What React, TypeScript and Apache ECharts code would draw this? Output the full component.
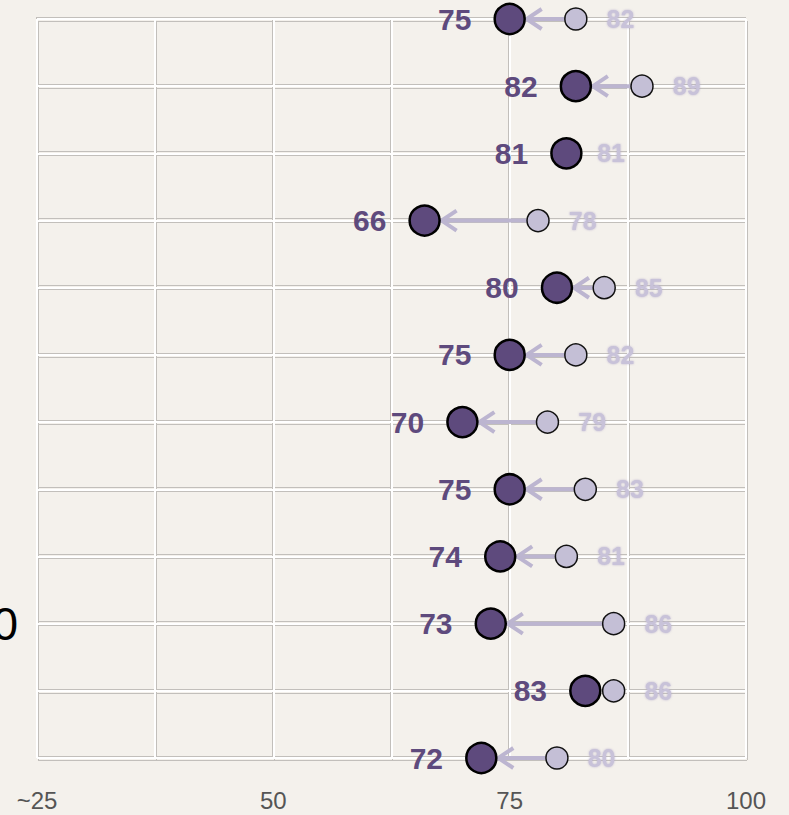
import React, { useEffect, useRef } from "react";
import * as echarts from "echarts";

const categories = ["", "", "", "", "", "", "", "", "", "0", "", ""];
const newValues = [75, 82, 81, 66, 80, 75, 70, 75, 74, 73, 83, 72];
const oldValues = [82, 89, 81, 78, 85, 82, 79, 83, 81, 86, 86, 80];
const xTicks = [25, 50, 75, 100];
const xTickLabels = ["~25", "50", "75", "100"];

const NEW_COLOR = "#5e4a7d";
const OLD_COLOR = "#c4bfd6";
const ARROW_COLOR = "#bcb5d0";
const GREY = "#c2bfbb";
const BG = "#f4f1ec";

export default function App() {
  const ref = useRef<HTMLDivElement>(null);
  useEffect(() => {
    if (!ref.current) return;
    const chart = echarts.init(ref.current, null, { renderer: "svg" });
    const idx = categories.map((_, i) => i);
    const grids = [
      { left: 37, right: 43, top: 19, bottom: 57, outerBoundsMode: "none", containLabel: false },
      { left: 36, right: 44, top: 17, bottom: 59, outerBoundsMode: "none", containLabel: false },
      { left: 38, right: 42, top: 21, bottom: 55, outerBoundsMode: "none", containLabel: false },
    ];
    const mkX = (gi: number, show: boolean, color: string, width: number) => ({
      type: "value",
      gridIndex: gi,
      min: 25,
      max: 100,
      interval: 12.5,
      axisLine: { show: false },
      axisTick: { show: false },
      axisLabel: show
        ? {
            show: true,
            margin: 30,
            fontFamily: "Liberation Sans, Arial, sans-serif",
            fontSize: 24,
            color: "#555555",
            showMinLabel: true,
            showMaxLabel: true,
            formatter: (v: number) => {
              const k = xTicks.indexOf(v);
              return k >= 0 ? xTickLabels[k] : "";
            },
          }
        : { show: false },
      splitLine: { show: true, lineStyle: { color, width } },
      z: gi === 0 ? 2 : 1,
    });
    const mkY = (gi: number, show: boolean, color: string, width: number) => ({
      type: "category",
      gridIndex: gi,
      data: categories,
      boundaryGap: false,
      inverse: true,
      axisLine: { show: false },
      axisTick: { show: false },
      axisLabel: show
        ? {
            show: true,
            interval: 0,
            margin: 19,
            fontFamily: "Liberation Sans, Arial, sans-serif",
            fontSize: 46,
            color: "#000000",
          }
        : { show: false },
      splitLine: { show: true, interval: 0, lineStyle: { color, width } },
      z: gi === 0 ? 2 : 1,
    });

    const arrowData = idx.map((i) => [oldValues[i], newValues[i], i]);

    chart.setOption({
      animation: false,
      backgroundColor: BG,
      grid: grids,
      xAxis: [mkX(0, true, "#ffffff", 2), mkX(1, false, GREY, 1), mkX(2, false, GREY, 1)],
      yAxis: [mkY(0, true, "#ffffff", 2), mkY(1, false, GREY, 1), mkY(2, false, GREY, 1)],
      series: [
        {
          type: "custom",
          xAxisIndex: 0,
          yAxisIndex: 0,
          z: 3,
          encode: { x: [0, 1], y: 2 },
          data: arrowData,
          renderItem: (params: any, api: any) => {
            const o = api.value(0);
            const nv = api.value(1);
            const r = api.value(2);
            const pOld = api.coord([o, r]);
            const pNew = api.coord([nv, r]);
            const sign = o > nv ? 1 : -1;
            const tipX = pNew[0] + 15 * sign;
            const startX = pOld[0] - 11 * sign;
            if ((startX - tipX) * sign <= 4) return null;
            const y = pNew[1];
            const style = {
              stroke: ARROW_COLOR,
              lineWidth: 4,
              fill: null,
              lineJoin: "miter",
            };
            return {
              type: "group",
              children: [
                {
                  type: "line",
                  shape: { x1: startX, y1: y, x2: tipX + 2 * sign, y2: y },
                  style,
                },
                {
                  type: "polyline",
                  shape: {
                    points: [
                      [tipX + 17 * sign, y - 10],
                      [tipX + 2 * sign, y],
                      [tipX + 17 * sign, y + 10],
                    ],
                  },
                  style,
                },
              ],
            };
          },
        },
        {
          type: "scatter",
          xAxisIndex: 0,
          yAxisIndex: 0,
          z: 4,
          symbol: "circle",
          symbolSize: 22,
          itemStyle: { color: OLD_COLOR, borderColor: "#111111", borderWidth: 1.5, opacity: 1 },
          data: idx.map((i) => [oldValues[i], i]),
          label: {
            show: true,
            position: "right",
            distance: 19,
            formatter: (p: any) => String(p.value[0]),
            fontFamily: "Liberation Sans, Arial, sans-serif",
            fontWeight: "bold",
            fontSize: 25,
            color: "#c8c2d9",
            textShadowColor: "rgba(170,160,195,0.7)",
            textShadowBlur: 2,
          },
        },
        {
          type: "scatter",
          xAxisIndex: 0,
          yAxisIndex: 0,
          z: 5,
          symbol: "circle",
          symbolSize: 30,
          itemStyle: { color: NEW_COLOR, borderColor: "#000000", borderWidth: 2.5, opacity: 1 },
          data: idx.map((i) => [newValues[i], i]),
          label: {
            show: true,
            position: "left",
            distance: 22,
            formatter: (p: any) => String(p.value[0]),
            fontFamily: "Liberation Sans, Arial, sans-serif",
            fontWeight: "bold",
            fontSize: 30,
            color: NEW_COLOR,
          },
        },
      ],
    });
    return () => chart.dispose();
  }, []);
  return (
    <div
      ref={ref}
      style={{ position: "absolute", left: 0, top: 0, width: 789, height: 815 }}
    />
  );
}
